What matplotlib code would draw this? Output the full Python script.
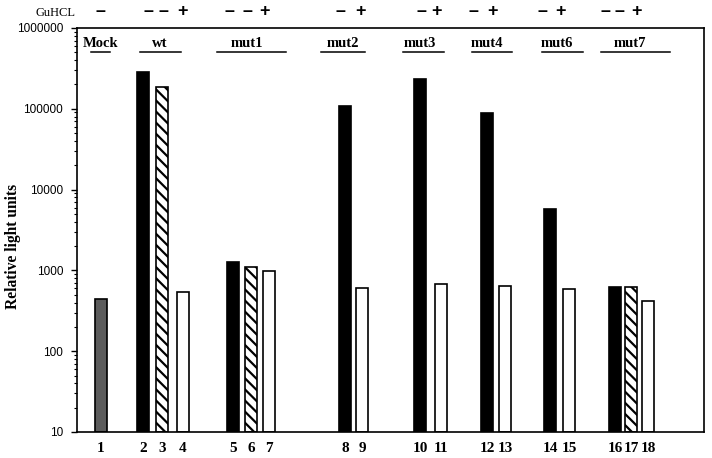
import numpy as np
import matplotlib
matplotlib.use("Agg")
import matplotlib.pyplot as plt
import matplotlib.transforms as mtransforms
from matplotlib.ticker import FixedLocator, FuncFormatter, LogLocator

# data
bar_labels = [str(i) for i in range(1, 19)]
values = [430, 288000, 187000, 536, 1245, 1092, 983, 108000, 589,
          234000, 665, 88000, 628, 5700, 584, 605, 612, 403]
fills = ["gray", "black", "hatch", "white", "black", "hatch", "white",
         "black", "white", "black", "white", "black", "white",
         "black", "white", "black", "hatch", "white"]
guhcl = ["-", "-", "-", "+", "-", "-", "+", "-", "+", "-", "+",
         "-", "+", "-", "+", "-", "-", "+"]
groups = ["Mock", "wt", "mut1", "mut2", "mut3", "mut4", "mut6", "mut7"]

# layout (x in pixels from the left spine)
x_pos = [24, 66, 85, 106, 156, 174, 192, 268, 285, 343, 364, 410, 428,
         473, 492, 538, 554, 571]
sign_x = [23, 71, 86, 105, 152, 170, 188, 263, 283, 344, 360, 396, 416,
          465, 483, 528, 542, 560]
group_x = [24, 83, 170, 266, 343, 410, 480, 553]
group_line = [(14, 33), (63, 104), (140, 209), (244, 288), (326, 367),
              (395, 435), (465, 506), (524, 593)]

plt.rcParams["hatch.linewidth"] = 1.6
serif = "Liberation Serif"

fig = plt.figure(figsize=(7.12, 4.58), dpi=100)
ax = fig.add_axes([77 / 712, 26 / 458, 627 / 712, 404 / 458])

style = {
    "gray": dict(color="#5c5c5c", hatch=None),
    "black": dict(color="black", hatch=None),
    "hatch": dict(color="white", hatch="\\\\\\"),
    "white": dict(color="white", hatch=None),
}
for x, v, f in zip(x_pos, values, fills):
    ax.bar(x, v, width=12, bottom=10, color=style[f]["color"],
           hatch=style[f]["hatch"], edgecolor="black", linewidth=1.2,
           align="center")

ax.set_yscale("log")
ax.set_ylim(10, 1000000)
ax.set_xlim(0, 627)
ax.yaxis.set_major_locator(FixedLocator([10, 100, 1000, 10000, 100000, 1000000]))
ax.yaxis.set_minor_locator(LogLocator(base=10, subs=np.arange(2, 10)))
ax.yaxis.set_major_formatter(FuncFormatter(lambda v, p: "%d" % v))
ax.yaxis.set_minor_formatter(FuncFormatter(lambda v, p: ""))
ax.tick_params(axis="y", which="major", direction="out", length=4, width=1,
               labelsize=8.5, pad=6)
ax.tick_params(axis="y", which="minor", direction="out", length=2.5, width=0.8)
for t in ax.get_yticklabels():
    t.set_fontfamily("Liberation Sans")

ax.set_xticks(x_pos)
ax.set_xticklabels(bar_labels, fontfamily=serif, fontweight="bold", fontsize=11)
ax.tick_params(axis="x", length=0, pad=7)

for s in ax.spines.values():
    s.set_linewidth(1.2)

ax.set_ylabel("Relative light units", fontfamily=serif, fontweight="bold",
              fontsize=11.2)
ax.yaxis.set_label_coords(-0.089, 0.46)

trans = mtransforms.blended_transform_factory(ax.transData, ax.transAxes)
for name, gx, (a, b) in zip(groups, group_x, group_line):
    ax.text(gx, 0.962, name, transform=trans, ha="center", va="center",
            fontfamily=serif, fontweight="bold", fontsize=10.5)
    ax.plot([a, b], [0.94, 0.94], transform=trans, color="black", lw=1.1)

ax.text(-21, 1.037, "GuHCL", transform=trans, ha="center", va="center",
        fontfamily=serif, fontsize=9, clip_on=False)
for sx, s in zip(sign_x, guhcl):
    ax.text(sx, 1.04, "\u2013" if s == "-" else "+", transform=trans,
            ha="center", va="center", fontfamily="Liberation Sans",
            fontweight="bold", fontsize=13, clip_on=False)

fig.savefig("out.png", dpi=100)
